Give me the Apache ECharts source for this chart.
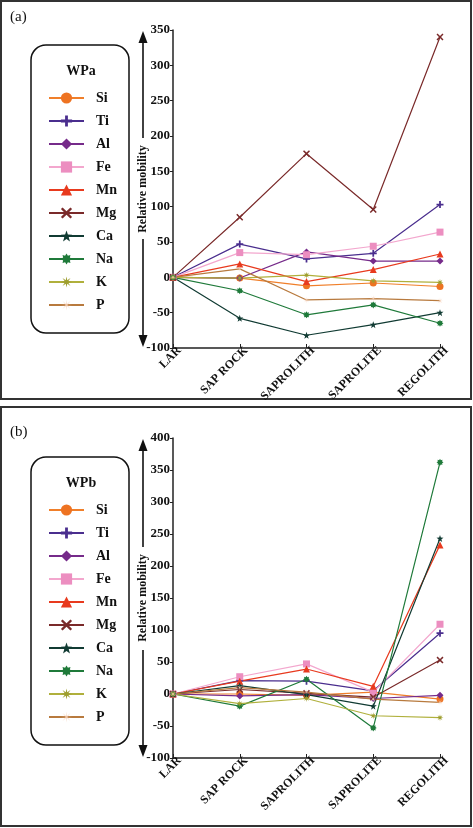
<!DOCTYPE html>
<html><head><meta charset="utf-8">
<script src="https://cdn.jsdelivr.net/npm/echarts@6/dist/echarts.min.js"></script>
<style>html,body{margin:0;padding:0;background:#fff}#c{width:473px;height:828px}</style>
</head><body><div id="c"></div>
<script>
var categories = ['LAR', 'SAP ROCK', 'SAPROLITH', 'SAPROLITE', 'REGOLITH'];
var elements = ['Si', 'Ti', 'Al', 'Fe', 'Mn', 'Mg', 'Ca', 'Na', 'K', 'P'];
var yTicksA = [-100, 350, 50];
var yTicksB = [-100, 400, 50];

// Panel (a) WPa
var wpaSi = [0, -1, -12, -8, -13];
var wpaTi = [0, 47, 26, 34, 103];
var wpaAl = [0, -1, 36, 23, 23];
var wpaFe = [0, 35, 32, 44, 64];
var wpaMn = [0, 19, -6, 11, 33];
var wpaMg = [0, 85, 175, 96, 340];
var wpaCa = [0, -58, -82, -67, -50];
var wpaNa = [0, -19, -53, -39, -65];
var wpaK  = [0, -1, 3, -5, -7];
var wpaP  = [0, 12, -32, -30, -33];

// Panel (b) WPb
var wpbSi = [0, 0, -2, 3, -8];
var wpbTi = [0, 21, 20, 5, 95];
var wpbAl = [0, -3, -1, -7, -2];
var wpbFe = [0, 27, 47, 3, 109];
var wpbMn = [0, 20, 39, 12, 233];
var wpbMg = [0, 7, 1, -5, 53];
var wpbCa = [0, 13, -1, -19, 243];
var wpbNa = [0, -19, 23, -53, 362];
var wpbK  = [0, -15, -7, -34, -37];
var wpbP  = [0, 10, 3, -8, -13];

var dataA = [wpaSi, wpaTi, wpaAl, wpaFe, wpaMn, wpaMg, wpaCa, wpaNa, wpaK, wpaP];
var dataB = [wpbSi, wpbTi, wpbAl, wpbFe, wpbMn, wpbMg, wpbCa, wpbNa, wpbK, wpbP];

function star(n, ro, ri) {
  var pts = [];
  for (var i = 0; i < 2 * n; i++) {
    var r = i % 2 === 0 ? ro : ri;
    var a = -Math.PI / 2 + i * Math.PI / n;
    pts.push((10 + r * Math.cos(a)).toFixed(2) + ',' + (10 + r * Math.sin(a)).toFixed(2));
  }
  return 'path://M' + pts.join(' L') + ' Z';
}
var styles = {
  Si: {line: '#F07F2A', mark: '#EE7322', sym: 'circle'},
  Ti: {line: '#4A2E8E', mark: '#4A2E8E', sym: 'path://M7.5,0 L12.5,0 L12.5,7.5 L20,7.5 L20,12.5 L12.5,12.5 L12.5,20 L7.5,20 L7.5,12.5 L0,12.5 L0,7.5 L7.5,7.5 Z'},
  Al: {line: '#762B8A', mark: '#762B8A', sym: 'diamond'},
  Fe: {line: '#F3A7CE', mark: '#EC8EC0', sym: 'rect'},
  Mn: {line: '#E83A1E', mark: '#E83A1E', sym: 'triangle'},
  Mg: {line: '#7A2A2A', mark: '#7A2A2A', sym: 'path://M0,3 L3,0 L10,7 L17,0 L20,3 L13,10 L20,17 L17,20 L10,13 L3,20 L0,17 L7,10 Z'},
  Ca: {line: '#113B33', mark: '#113B33', sym: star(5, 10, 4)},
  Na: {line: '#1F7A3A', mark: '#1F7A3A', sym: star(8, 10, 6.5)},
  K:  {line: '#B0B03C', mark: '#9E9E2E', sym: star(8, 10, 3.5)},
  P:  {line: '#B87A3E', mark: '#F2CBB0', sym: star(8, 10, 1.6)}
};

var series = [];
function addSeries(arr, idx) {
  elements.forEach(function (el, i) {
    var s = styles[el];
    series.push({
      name: el, type: 'line', xAxisIndex: idx, yAxisIndex: idx,
      data: arr[i], symbol: s.sym, symbolSize: 7, showSymbol: true,
      lineStyle: {color: s.line, width: 1.2},
      itemStyle: {color: s.mark, borderWidth: 0},
      emphasis: {disabled: true}, animation: false
    });
  });
}
addSeries(dataA, 0);
addSeries(dataB, 1);

var serif = '"Liberation Serif", "Times New Roman", serif';
function xAxis(gi) {
  return {
    type: 'category', gridIndex: gi, data: categories, boundaryGap: false,
    axisLine: {onZero: false, lineStyle: {color: '#222', width: 1.5}},
    axisTick: {inside: true, length: 4, lineStyle: {color: '#222'}},
    axisLabel: {rotate: 45, margin: 7, padding: [0, -9, 0, 0], fontFamily: serif, fontWeight: 'bold', fontSize: 12, color: '#111'},
    splitLine: {show: false}
  };
}
function yAxis(gi, t) {
  return {
    type: 'value', gridIndex: gi, min: t[0], max: t[1], interval: t[2],
    axisLine: {show: true, lineStyle: {color: '#222', width: 1.5}},
    axisTick: {show: true, length: 3, lineStyle: {color: '#222'}},
    axisLabel: {margin: 3, fontFamily: serif, fontWeight: 'bold', fontSize: 13, color: '#111'},
    splitLine: {show: false}
  };
}
function legend(top) {
  return {
    orient: 'vertical', left: 43, top: top, itemWidth: 35, itemHeight: 14, itemGap: 9,
    data: elements, selectedMode: false,
    lineStyle: {width: 2},
    textStyle: {fontFamily: serif, fontWeight: 'bold', fontSize: 14, color: '#111', padding: [0, 0, 0, 7]}
  };
}
function arrow(x, y1, y2) {
  var dir = y2 < y1 ? -1 : 1;
  return [
    {type: 'line', shape: {x1: x, y1: y1, x2: x, y2: y2 - dir * 10}, style: {stroke: '#111', lineWidth: 1.6}},
    {type: 'polygon', shape: {points: [[x - 4.5, y2 - dir * 12], [x + 4.5, y2 - dir * 12], [x, y2]]}, style: {fill: '#111'}}
  ];
}
var graphics = [
  {type: 'rect', shape: {x: 1, y: 1, width: 470, height: 398}, style: {fill: 'none', stroke: '#333', lineWidth: 2}},
  {type: 'rect', shape: {x: 1, y: 407, width: 470, height: 419}, style: {fill: 'none', stroke: '#333', lineWidth: 2}},
  {type: 'text', x: 10, y: 17, style: {text: '(a)', font: '15px ' + serif, fill: '#111', textVerticalAlign: 'middle'}},
  {type: 'text', x: 10, y: 432, style: {text: '(b)', font: '15px ' + serif, fill: '#111', textVerticalAlign: 'middle'}},
  {type: 'rect', shape: {x: 31, y: 45, width: 98, height: 288, r: 15}, style: {fill: 'none', stroke: '#111', lineWidth: 1.5}},
  {type: 'rect', shape: {x: 31, y: 457, width: 98, height: 288, r: 15}, style: {fill: 'none', stroke: '#111', lineWidth: 1.5}},
  {type: 'text', x: 81, y: 71, style: {text: 'WPa', font: 'bold 14px ' + serif, fill: '#111', textAlign: 'center', textVerticalAlign: 'middle'}},
  {type: 'text', x: 81, y: 483, style: {text: 'WPb', font: 'bold 14px ' + serif, fill: '#111', textAlign: 'center', textVerticalAlign: 'middle'}},
  {type: 'text', x: 143, y: 189, rotation: Math.PI / 2, style: {text: 'Relative mobility', font: 'bold 12px ' + serif, fill: '#111', textAlign: 'center', textVerticalAlign: 'middle'}},
  {type: 'text', x: 143, y: 598, rotation: Math.PI / 2, style: {text: 'Relative mobility', font: 'bold 12px ' + serif, fill: '#111', textAlign: 'center', textVerticalAlign: 'middle'}}
].concat(arrow(143, 138, 31), arrow(143, 239, 347), arrow(143, 547, 439), arrow(143, 650, 757));

var chart = echarts.init(document.getElementById('c'), null, {renderer: 'canvas'});
chart.setOption({
  animation: false,
  backgroundColor: '#fff',
  grid: [
    {left: 173, top: 30, width: 267, height: 318},
    {left: 173, top: 438, width: 267, height: 320}
  ],
  xAxis: [xAxis(0), xAxis(1)],
  yAxis: [yAxis(0, yTicksA), yAxis(1, yTicksB)],
  legend: [legend(86), legend(498)],
  graphic: graphics,
  series: series
});
</script></body></html>
